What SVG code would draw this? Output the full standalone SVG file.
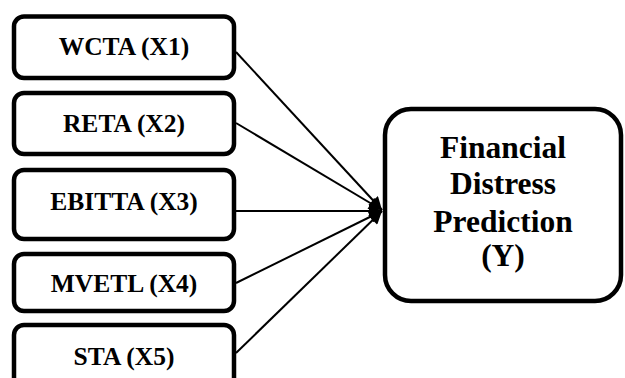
<svg xmlns="http://www.w3.org/2000/svg" width="625" height="378" viewBox="0 0 625 378">
<style>
.box{fill:#fff;stroke:#000;stroke-width:4.5}
.lbl{font-family:"Liberation Serif","Times New Roman",serif;font-weight:bold;font-size:25.5px;text-anchor:middle;fill:#000}
.big{font-family:"Liberation Serif","Times New Roman",serif;font-weight:bold;font-size:31.5px;text-anchor:middle;fill:#000}
.con{stroke:#000;stroke-width:2;fill:none;marker-end:url(#ah)}
</style>
<defs>
<marker id="ah" viewBox="0 0 10 10" refX="10" refY="5" markerWidth="7.5" markerHeight="6.5" markerUnits="strokeWidth" orient="auto">
<path d="M0,0 L10,5 L0,10 z" fill="#000"/>
</marker>
</defs>
<rect width="625" height="378" fill="#fff"/>
<g id="connectors">
<line class="con" x1="236" y1="52" x2="382" y2="210"/>
<line class="con" x1="236" y1="123" x2="382" y2="210"/>
<line class="con" x1="236" y1="211" x2="382" y2="211"/>
<line class="con" x1="236" y1="283" x2="382" y2="211"/>
<line class="con" x1="236" y1="353" x2="382" y2="211"/>
</g>
<g id="n1"><rect class="box" x="14" y="16.5" width="220" height="61.5" rx="10"/><text class="lbl" x="124" y="55">WCTA (X1)</text></g>
<g id="n2"><rect class="box" x="14" y="93" width="220" height="61" rx="10"/><text class="lbl" x="124" y="132">RETA (X2)</text></g>
<g id="n3"><rect class="box" x="14" y="170" width="220" height="69" rx="10"/><text class="lbl" x="124" y="210">EBITTA (X3)</text></g>
<g id="n4"><rect class="box" x="14" y="254" width="220" height="57" rx="10"/><text class="lbl" x="124" y="292">MVETL (X4)</text></g>
<g id="n5"><rect class="box" x="14" y="325" width="220" height="70" rx="10"/><text class="lbl" x="124" y="365">STA (X5)</text></g>
<g id="y"><rect class="box" x="385" y="109" width="236" height="192" rx="26"/>
<text class="big" x="503" y="158">Financial</text>
<text class="big" x="503" y="194">Distress</text>
<text class="big" x="503" y="232">Prediction</text>
<text class="big" x="503" y="266">(Y)</text>
</g>
</svg>
